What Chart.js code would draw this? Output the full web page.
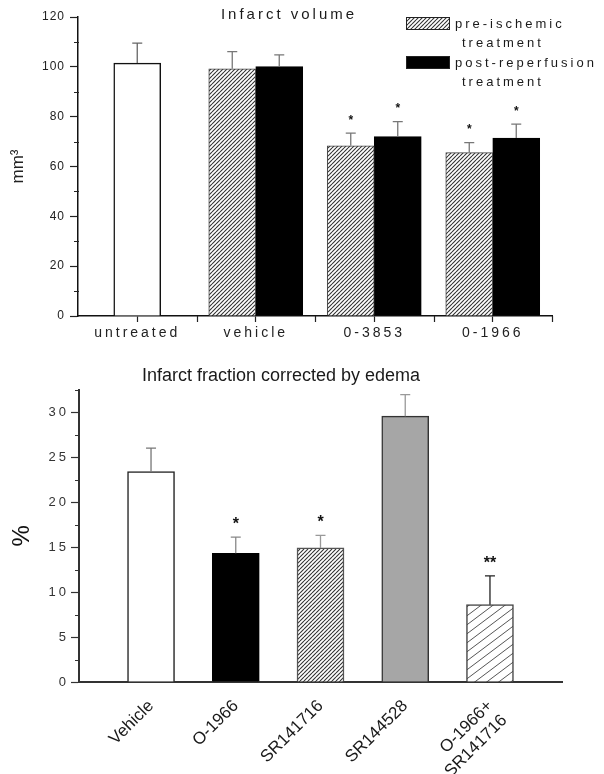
<!DOCTYPE html>
<html><head><meta charset="utf-8">
<script src="https://cdn.jsdelivr.net/npm/chart.js@4.4.0/dist/chart.umd.min.js"></script>
<style>
html,body{margin:0;padding:0;background:#fff;}
#wrap{position:relative;width:604px;height:774px;overflow:hidden;}
.box{position:absolute;left:0;width:604px;}
</style></head><body>
<div id="wrap">
<div class="box" style="top:0;height:345px"><canvas id="c1" width="604" height="345"></canvas></div>
<div class="box" style="top:345px;height:429px"><canvas id="c2" width="604" height="429"></canvas></div>
</div>
<script>
// ---------------- data: top panel (Infarct volume, mm3) ----------------
const volumeCategories = ['untreated', 'vehicle', '0-3853', '0-1966'];
const untreatedVolume = [101.5, null, null, null];
const untreatedSem = [8.0, null, null, null];
const preIschemicVolume = [null, 99.2, 68.3, 65.6];
const preIschemicSem = [null, 6.9, 5.1, 4.0];
const postReperfusionVolume = [null, 100.1, 72.0, 71.4];
const postReperfusionSem = [null, 4.7, 6.0, 5.6];
const preIschemicSig = ['', '', '*', '*'];
const postReperfusionSig = ['', '', '*', '*'];
const volumeTickValues = [0, 20, 40, 60, 80, 100, 120];

// ---------------- data: bottom panel (Infarct fraction, %) ----------------
const fractionCategories = ['Vehicle', 'O-1966', 'SR141716', 'SR144528', ['O-1966+', 'SR141716']];
const fractionValues = [23.4, 14.3, 14.9, 29.55, 8.6];
const fractionSem = [2.6, 1.8, 1.4, 2.4, 3.2];
const fractionSig = ['', '*', '*', '', '**'];
const fractionTickValues = [0, 5, 10, 15, 20, 25, 30];

// ---------------- helpers ----------------
function hatch(w, h, color, lw) {
  const c = document.createElement('canvas');
  c.width = w; c.height = h;
  const g = c.getContext('2d');
  g.fillStyle = '#fff'; g.fillRect(0, 0, w, h);
  g.strokeStyle = color; g.lineWidth = lw;
  g.beginPath();
  for (let k = -1; k <= 1; k++) { g.moveTo(0, h + h * k); g.lineTo(w, h * k); }
  g.stroke();
  return g.createPattern(c, 'repeat');
}
const ctx1 = document.getElementById('c1').getContext('2d');
const fineHatch = hatch(4, 4, '#333', 1.1);
const wideHatch = hatch(12, 9, '#555', 1);

const labelSpacing = {
  id: 'labelSpacing',
  beforeDraw(chart, args, opts) {
    Object.entries(opts.scales || {}).forEach(([id, px]) => {
      const s = chart.scales[id];
      if (!s || s.__spaced) return;
      const orig = s.drawLabels.bind(s);
      s.drawLabels = function (area) {
        const c = this.ctx; const prev = c.letterSpacing;
        c.letterSpacing = px; orig(area); c.letterSpacing = prev;
      };
      s.__spaced = true;
    });
  }
};

const errorBars = {
  id: 'errorBars',
  afterDatasetsDraw(chart, args, opts) {
    const ctx = chart.ctx, ys = chart.scales.y;
    chart.data.datasets.forEach((ds, di) => {
      const meta = chart.getDatasetMeta(di);
      meta.data.forEach((bar, i) => {
        const raw = ds.data[i];
        const v = (raw && typeof raw === 'object') ? raw.y : raw;
        const e = ds.sem ? ds.sem[i] : null;
        if (v == null || e == null) return;
        const yTop = ys.getPixelForValue(v + e);
        const col = Array.isArray(ds.errorColor) ? ds.errorColor[i] : ds.errorColor;
        ctx.save();
        ctx.strokeStyle = col; ctx.lineWidth = 1.3;
        ctx.beginPath();
        ctx.moveTo(bar.x, bar.y); ctx.lineTo(bar.x, yTop);
        ctx.moveTo(bar.x - opts.cap, yTop); ctx.lineTo(bar.x + opts.cap, yTop);
        ctx.stroke();
        const sig = ds.sig ? ds.sig[i] : '';
        if (sig) {
          ctx.fillStyle = '#111';
          ctx.font = opts.starFont;
          ctx.textAlign = 'center';
          ctx.textBaseline = 'alphabetic';
          ctx.fillText(sig, bar.x, yTop - opts.starGap + 0.57 * opts.starSize);
        }
        ctx.restore();
      });
    });
  }
};

const minorTicks = {
  id: 'minorTicks',
  afterDraw(chart, args, opts) {
    const ctx = chart.ctx, ys = chart.scales.y;
    ctx.save();
    ctx.strokeStyle = opts.color; ctx.lineWidth = 1.2;
    ctx.beginPath();
    for (let v = opts.step / 2; v <= ys.max + 1e-6; v += opts.step) {
      const p = Math.round(ys.getPixelForValue(v)) + 0.5;
      ctx.moveTo(ys.right - opts.len, p); ctx.lineTo(ys.right + 1, p);
    }
    if (opts.xBoundaries) {
      const xs = chart.scales.x;
      for (let k = 0; k < xs.getLabels().length; k++) {
        const px = Math.round(xs.getPixelForValue(k + 0.5)) + 0.5;
        ctx.moveTo(px, xs.top); ctx.lineTo(px, xs.top + 6);
      }
    }
    ctx.stroke();
    ctx.restore();
  }
};

const titleLegend = {
  id: 'titleLegend',
  afterDraw(chart, args, opts) {
    const ctx = chart.ctx;
    ctx.save();
    ctx.letterSpacing = opts.spacing;
    ctx.fillStyle = '#1a1a1a';
    ctx.textBaseline = 'middle';
    ctx.font = opts.titleFont;
    const w = ctx.measureText(opts.title).width;
    ctx.fillText(opts.title, opts.titleX - w / 2, opts.titleY);
    ctx.font = opts.legendFont;
    opts.items.forEach((it, n) => {
      const ds = chart.data.datasets[it.dataset];
      const y0 = opts.legendY + n * opts.rowGap;
      ctx.fillStyle = ds.backgroundColor;
      ctx.fillRect(opts.legendX, y0, opts.boxW, opts.boxH);
      ctx.strokeStyle = '#222'; ctx.lineWidth = 1;
      ctx.strokeRect(opts.legendX + 0.5, y0 + 0.5, opts.boxW - 1, opts.boxH - 1);
      ctx.fillStyle = '#1a1a1a';
      ds.legendLines.forEach((line, j) => {
        ctx.fillText(line, opts.legendX + opts.boxW + 5 + (j ? 7 : 0), y0 + 7 + j * 19);
      });
    });
    ctx.restore();
  }
};

// ---------------- top chart ----------------
new Chart(ctx1, {
  type: 'bar',
  data: {
    labels: volumeCategories,
    datasets: [
      { label: 'untreated', data: untreatedVolume, sem: untreatedSem, sig: ['', '', '', ''],
        backgroundColor: '#fff', borderColor: '#111', borderWidth: 1.5, errorColor: '#666' },
      { label: 'pre-ischemic treatment', legendLines: ['pre-ischemic', 'treatment'],
        data: preIschemicVolume, sem: preIschemicSem, sig: preIschemicSig,
        backgroundColor: fineHatch, borderColor: '#444', borderWidth: 1, errorColor: '#777' },
      { label: 'post-reperfusion treatment', legendLines: ['post-reperfusion', 'treatment'],
        data: postReperfusionVolume, sem: postReperfusionSem, sig: postReperfusionSig,
        backgroundColor: '#000', borderColor: '#000', borderWidth: 1, errorColor: '#777' }
    ]
  },
  options: {
    responsive: false, animation: false,
    skipNull: true,
    datasets: { bar: { barThickness: 47, skipNull: true } },
    layout: { padding: { top: 17, right: 52, left: 0, bottom: 0 } },
    plugins: {
      legend: { display: false }, tooltip: { enabled: false }, title: { display: false },
      labelSpacing: { scales: { x: '3px', y: '1px' } },
      errorBars: { cap: 5, starFont: 'bold 12px Arial', starSize: 12, starGap: 16 },
      minorTicks: { step: 20, len: 4, color: '#222', xBoundaries: true },
      titleLegend: {
        spacing: '3px', title: 'Infarct volume', titleFont: '15px Arial', titleX: 289, titleY: 15,
        legendFont: '13px Arial', legendX: 406, legendY: 17, rowGap: 39, boxW: 44, boxH: 13,
        items: [{ dataset: 1 }, { dataset: 2 }]
      }
    },
    scales: {
      x: {
        type: 'category', offset: true,
        grid: { display: true, drawOnChartArea: false, offset: false, tickLength: 6, tickColor: '#222', tickWidth: 1.2 },
        border: { display: true, color: '#111', width: 1.5 },
        ticks: { color: '#222', font: { family: 'Arial', size: 14 }, padding: 3, maxRotation: 0, autoSkip: false },
        afterFit(s) { s.height = 29; }
      },
      y: {
        min: 0, max: 120,
        afterBuildTicks(s) { s.ticks = volumeTickValues.map(v => ({ value: v })); },
        grid: { display: true, drawOnChartArea: false, tickLength: 8, tickColor: '#222', tickWidth: 1.2 },
        border: { display: true, color: '#111', width: 1.5 },
        ticks: { color: '#222', font: { family: 'Arial', size: 12 }, padding: 5 },
        title: { display: true, text: 'mm³', color: '#222', font: { family: 'Arial', size: 17 }, padding: { top: 8, bottom: 0 } },
        afterFit(s) { s.width = 78; }
      }
    }
  },
  plugins: [labelSpacing, errorBars, minorTicks, titleLegend]
});

// ---------------- bottom chart ----------------
const ctx2 = document.getElementById('c2').getContext('2d');
new Chart(ctx2, {
  type: 'bar',
  data: {
    datasets: [{
      label: 'Infarct fraction corrected by edema',
      data: fractionValues.map((v, i) => ({ x: i, y: v })),
      sem: fractionSem, sig: fractionSig,
      backgroundColor: ['#fff', '#000', fineHatch, '#a6a6a6', wideHatch],
      borderColor: ['#222', '#000', '#555', '#333', '#444'],
      borderWidth: 1.5,
      barThickness: 47,
      errorColor: ['#777', '#888', '#999', '#999', '#222']
    }]
  },
  options: {
    responsive: false, animation: false,
    layout: { padding: { top: 0, right: 42, left: 0, bottom: 0 } },
    plugins: {
      legend: { display: false }, tooltip: { enabled: false },
      title: { display: true, text: 'Infarct fraction corrected by edema', color: '#1a1a1a',
        font: { family: 'Arial', size: 18, weight: 'normal' }, padding: { top: 20, bottom: 3 } },
      labelSpacing: { scales: { y: '3px' } },
      errorBars: { cap: 5, starFont: 'bold 16px Arial', starSize: 16, starGap: 17 },
      minorTicks: { step: 5, len: 4, color: '#333', xBoundaries: false }
    },
    scales: {
      x: {
        type: 'linear', min: -0.85, max: 4.85, offset: false,
        afterBuildTicks(s) { s.ticks = fractionCategories.map((c, i) => ({ value: i })); },
        grid: { display: false, drawTicks: false },
        border: { display: true, color: '#333', width: 2 },
        ticks: {
          color: '#1a1a1a', font: { family: 'Arial', size: 17 }, padding: 14,
          minRotation: 45, maxRotation: 45, autoSkip: false,
          callback: (v) => fractionCategories[v]
        },
        afterFit(s) { s.height = 92; }
      },
      y: {
        min: 0, max: 32.5,
        afterBuildTicks(s) { s.ticks = fractionTickValues.map(v => ({ value: v })); },
        grid: { display: true, drawOnChartArea: false, tickLength: 8, tickColor: '#333', tickWidth: 1.2 },
        border: { display: true, color: '#333', width: 2 },
        ticks: { color: '#333', font: { family: 'Arial', size: 13 }, padding: 2 },
        title: { display: true, text: '%', color: '#111', font: { family: 'Arial', size: 24 }, padding: { top: 8, bottom: 0 } },
        afterFit(s) { s.width = 79; }
      }
    }
  },
  plugins: [labelSpacing, errorBars, minorTicks]
});
</script>
</body></html>
